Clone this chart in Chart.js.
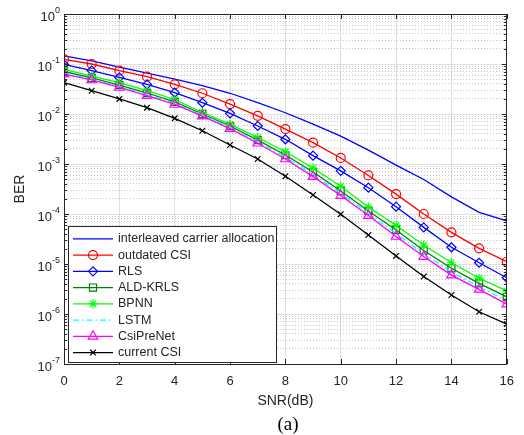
<!DOCTYPE html>
<html>
<head>
<meta charset="utf-8">
<script src="https://cdn.jsdelivr.net/npm/chart.js@4.4.0/dist/chart.umd.min.js"></script>
<style>
  html, body { margin: 0; padding: 0; background: #fff; }
  #wrap { width: 524px; height: 435px; }
</style>
</head>
<body>
<div id="wrap"><canvas id="berChart" width="524" height="435"></canvas></div>
<script>
// SNR in dB
const snr = [0, 1, 2, 3, 4, 5, 6, 7, 8, 9, 10, 11, 12, 13, 14, 15, 16];

// BER per scheme
const interleaved = [0.145, 0.115, 0.087, 0.066, 0.050, 0.037, 0.026, 0.0168, 0.0106, 0.0063, 0.0036, 0.0019, 9.5e-4, 4.9e-4, 2.2e-4, 1.08e-4, 7.3e-5];
const outdatedCsi = [0.124, 0.100, 0.0735, 0.0557, 0.0393, 0.026, 0.0158, 0.0092, 0.0050, 0.00267, 0.00132, 5.9e-4, 2.5e-4, 1.0e-4, 4.3e-5, 2.06e-5, 1.11e-5];
const rls = [0.098, 0.0735, 0.054, 0.039, 0.0267, 0.0168, 0.0103, 0.00575, 0.00312, 0.00147, 7.3e-4, 3.36e-4, 1.4e-4, 5.4e-5, 2.16e-5, 1.06e-5, 5.3e-6];
const aldKrls = [0.0708, 0.0525, 0.038, 0.0263, 0.0174, 0.0100, 0.00575, 0.0030, 0.00151, 6.9e-4, 2.88e-4, 1.15e-4, 4.8e-5, 1.86e-5, 8.2e-6, 4.1e-6, 2.2e-6];
const bpnn = [0.0783, 0.0575, 0.0423, 0.0295, 0.0195, 0.0107, 0.00625, 0.00339, 0.00176, 8.3e-4, 3.58e-4, 1.38e-4, 5.9e-5, 2.4e-5, 1.06e-5, 5.2e-6, 2.9e-6];
const lstm = [0.0664, 0.0499, 0.0356, 0.0247, 0.0163, 0.0095, 0.0054, 0.00279, 0.00137, 6.2e-4, 2.57e-4, 1.02e-4, 4.06e-5, 1.6e-5, 6.9e-6, 3.5e-6, 1.85e-6];
const csiPreNet = [0.063, 0.0479, 0.0339, 0.0234, 0.0155, 0.0091, 0.0051, 0.0026, 0.00126, 5.6e-4, 2.34e-4, 9.3e-5, 3.55e-5, 1.41e-5, 6.0e-6, 3.1e-6, 1.58e-6];
const currentCsi = [0.0423, 0.0292, 0.020, 0.0134, 0.0082, 0.00463, 0.0024, 0.00126, 5.7e-4, 2.4e-4, 9.9e-5, 3.8e-5, 1.45e-5, 5.6e-6, 2.4e-6, 1.11e-6, 6.3e-7];

const seriesNames = ['interleaved carrier allocation', 'outdated CSI', 'RLS', 'ALD-KRLS', 'BPNN', 'LSTM', 'CsiPreNet', 'current CSI'];

// axis ticks
const xTicks = [0, 2, 4, 6, 8, 10, 12, 14, 16];
const yExponents = [-7, -6, -5, -4, -3, -2, -1, 0];

const axisColor = '#262626';
const fontSans = '"Liberation Sans", Arial, sans-serif';

function pts(values) {
  return snr.map((x, i) => ({ x: x, y: values[i] }));
}

function line(label, values, color, style, radius, extra) {
  return Object.assign({
    label: label,
    data: pts(values),
    borderColor: color,
    backgroundColor: 'rgba(0,0,0,0)',
    borderWidth: 1.3,
    pointStyle: style,
    pointRadius: radius,
    pointBorderColor: color,
    pointBackgroundColor: 'rgba(0,0,0,0)',
    pointBorderWidth: 1.2,
    tension: 0,
    fill: false
  }, extra || {});
}

const datasets = [
  line(seriesNames[0], interleaved, '#0000ff', false, 0),
  line(seriesNames[1], outdatedCsi, '#ff0000', 'circle', 4.5),
  line(seriesNames[2], rls, '#0000ff', 'rectRot', 4.5),
  line(seriesNames[3], aldKrls, '#008000', 'rect', 5),
  line(seriesNames[4], bpnn, '#00ff00', 'star', 4.5),
  line(seriesNames[5], lstm, '#00ffff', false, 0, { borderDash: [6, 3, 1.5, 3] }),
  line(seriesNames[6], csiPreNet, '#ff00ff', 'triangle', 5.5),
  line(seriesNames[7], currentCsi, '#000000', 'crossRot', 4)
];
// later series on top, like the original
datasets.forEach((d, i) => { d.order = datasets.length - i; });

function drawMarker(ctx, ds, x, y) {
  if (!ds.pointStyle || !ds.pointRadius) return;
  ctx.save();
  ctx.strokeStyle = ds.pointBorderColor;
  ctx.fillStyle = 'rgba(0,0,0,0)';
  ctx.lineWidth = ds.pointBorderWidth;
  Chart.helpers.drawPoint(ctx, {
    pointStyle: ds.pointStyle,
    rotation: 0,
    radius: ds.pointRadius,
    borderWidth: ds.pointBorderWidth
  }, x, y);
  ctx.restore();
}

const matlabLook = {
  id: 'matlabLook',
  afterDraw(chart) {
    const ctx = chart.ctx;
    const area = chart.chartArea;
    const xs = chart.scales.x;
    const ys = chart.scales.y;
    ctx.save();

    // inward tick marks on all four sides
    ctx.strokeStyle = axisColor;
    ctx.lineWidth = 1;
    ctx.beginPath();
    xs.ticks.forEach(t => {
      const px = Math.round(xs.getPixelForValue(t.value)) + 0.5;
      ctx.moveTo(px, area.bottom); ctx.lineTo(px, area.bottom - 5);
      ctx.moveTo(px, area.top); ctx.lineTo(px, area.top + 5);
    });
    ys.ticks.forEach(t => {
      const py = Math.round(ys.getPixelForValue(t.value)) + 0.5;
      const len = t.major ? 5 : 3;
      ctx.moveTo(area.left, py); ctx.lineTo(area.left + len, py);
      ctx.moveTo(area.right, py); ctx.lineTo(area.right - len, py);
    });
    ctx.stroke();

    // axes box
    ctx.strokeRect(Math.round(area.left) + 0.5, Math.round(area.top) + 0.5,
      Math.round(area.right - area.left) - 1, Math.round(area.bottom - area.top));

    // y tick labels as 10^n
    ctx.fillStyle = axisColor;
    ctx.textBaseline = 'middle';
    yExponents.forEach(e => {
      const py = ys.getPixelForValue(Math.pow(10, e));
      const expText = String(e);
      ctx.font = '9px ' + fontSans;
      const ew = ctx.measureText(expText).width;
      ctx.textAlign = 'left';
      ctx.fillText(expText, 60 - ew, py - 3);
      ctx.font = '13px ' + fontSans;
      ctx.textAlign = 'right';
      ctx.fillText('10', 60 - ew, py + 3.5);
    });

    // legend box
    const box = { left: 68.5, top: 226.5, right: 276.5, bottom: 362.5 };
    ctx.fillStyle = '#ffffff';
    ctx.fillRect(box.left, box.top, box.right - box.left, box.bottom - box.top);
    ctx.strokeStyle = axisColor;
    ctx.lineWidth = 1;
    ctx.strokeRect(box.left, box.top, box.right - box.left, box.bottom - box.top);
    chart.data.datasets.forEach((ds, i) => {
      const y = 238.8 + i * 16.25;
      ctx.save();
      ctx.strokeStyle = ds.borderColor;
      ctx.lineWidth = ds.borderWidth;
      ctx.setLineDash(ds.borderDash || []);
      ctx.beginPath();
      ctx.moveTo(73, y); ctx.lineTo(113, y);
      ctx.stroke();
      ctx.restore();
      drawMarker(ctx, ds, 93, y);
      ctx.fillStyle = axisColor;
      ctx.font = '12.5px ' + fontSans;
      ctx.textAlign = 'left';
      ctx.textBaseline = 'middle';
      ctx.fillText(ds.label, 118, y);
    });

    // panel caption
    ctx.fillStyle = '#000000';
    ctx.font = '19px "Liberation Serif", "Times New Roman", serif';
    ctx.textAlign = 'center';
    ctx.textBaseline = 'middle';
    ctx.fillText('(a)', 288, 425);

    ctx.restore();
  }
};

const ctx = document.getElementById('berChart').getContext('2d');
const berChart = new Chart(ctx, {
  type: 'line',
  data: { datasets: datasets },
  options: {
    responsive: false,
    animation: false,
    devicePixelRatio: 1,
    layout: { padding: { left: 0, right: 14, top: 14, bottom: 0 } },
    plugins: {
      legend: { display: false },
      tooltip: { enabled: false }
    },
    scales: {
      x: {
        type: 'linear',
        min: 0,
        max: 16,
        afterBuildTicks: scale => { scale.ticks = xTicks.map(v => ({ value: v })); },
        afterFit: scale => { scale.height = 71; },
        ticks: {
          color: axisColor,
          font: { family: fontSans, size: 13 },
          padding: 10,
          maxRotation: 0
        },
        grid: { color: '#dfdfdf', lineWidth: 1, drawTicks: false },
        border: { display: false },
        title: {
          display: true,
          text: 'SNR(dB)',
          color: axisColor,
          font: { family: fontSans, size: 14 },
          padding: { top: 0, bottom: 25.6 }
        }
      },
      y: {
        type: 'logarithmic',
        min: 1e-7,
        max: 1,
        afterBuildTicks: scale => {
          const ticks = [];
          yExponents.forEach(e => {
            for (let m = 1; m <= 9; m++) {
              if (e === 0 && m > 1) break;
              ticks.push({ value: m * Math.pow(10, e), major: m === 1 });
            }
          });
          scale.ticks = ticks;
        },
        afterFit: scale => { scale.width = 64; },
        ticks: { display: false },
        grid: {
          drawTicks: false,
          lineWidth: 1,
          color: c => (c.tick && c.tick.major) ? '#dfdfdf' : '#c4c4c4'
        },
        border: {
          display: false,
          dash: c => (c.tick && !c.tick.major) ? [1, 2] : []
        },
        title: {
          display: true,
          text: 'BER',
          color: axisColor,
          font: { family: fontSans, size: 14 },
          padding: { top: 12, bottom: 0 }
        }
      }
    }
  },
  plugins: [matlabLook]
});
</script>
</body>
</html>
